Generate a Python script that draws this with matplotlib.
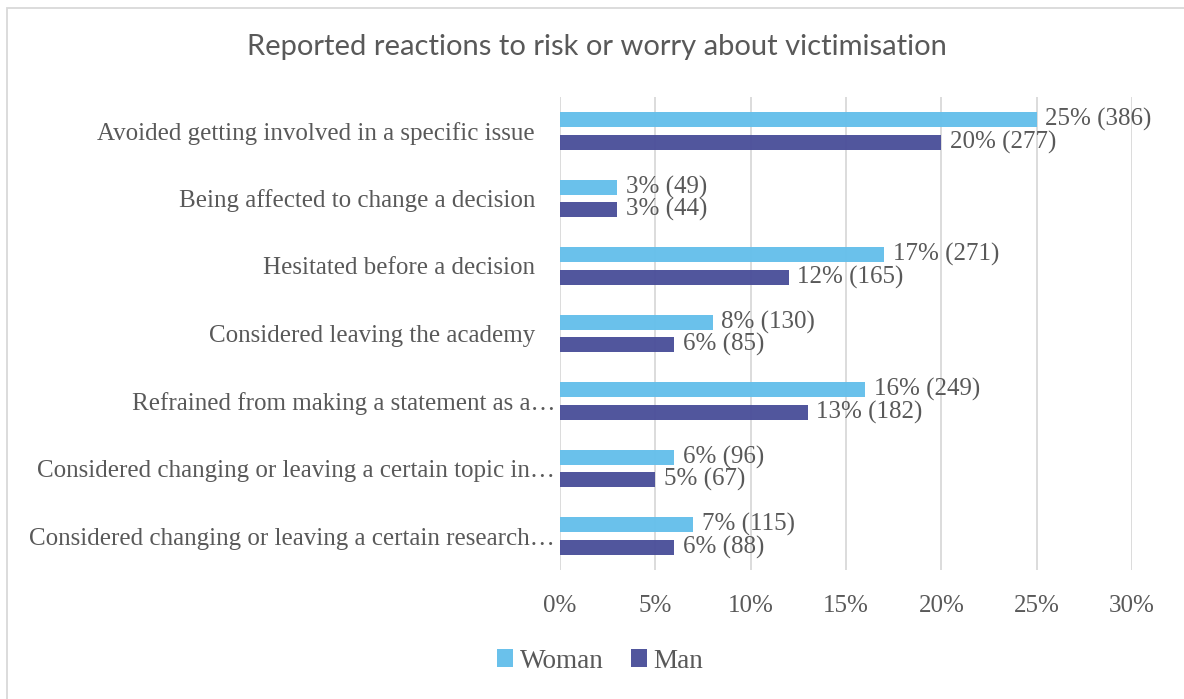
import numpy as np
import matplotlib.pyplot as plt
from matplotlib.patches import Rectangle
from matplotlib.transforms import ScaledTranslation

# data
categories = [
    "Avoided getting involved in a specific issue",
    "Being affected to change a decision",
    "Hesitated before a decision",
    "Considered leaving the academy",
    "Refrained from making a statement as a\u2026",
    "Considered changing or leaving a certain topic in\u2026",
    "Considered changing or leaving a certain research\u2026",
]
woman_pct = [25, 3, 17, 8, 16, 6, 7]
woman_n = [386, 49, 271, 130, 249, 96, 115]
man_pct = [20, 3, 12, 6, 13, 5, 6]
man_n = [277, 44, 165, 85, 182, 67, 88]
xticks = [0, 5, 10, 15, 20, 25, 30]

c_woman = "#65bfeb"
c_man = "#4b509a"
txt = "#595959"
serif = "Liberation Serif"

fig = plt.figure(figsize=(11.84, 6.99), dpi=100)
ax = fig.add_axes([560/1184, 1-570/699, (1132-560)/1184, (570-97)/699])

y = np.arange(len(categories))
h = 0.22
off = 0.167
ax.barh(y - off, woman_pct, height=h, color=c_woman, alpha=0.97, label="Woman", zorder=3)
ax.barh(y + off, man_pct, height=h, color=c_man, alpha=0.97, label="Man", zorder=3)

for i in range(len(categories)):
    ax.text(woman_pct[i] + 0.45, y[i] - off, f"{woman_pct[i]}% ({woman_n[i]})",
            va="center", ha="left", fontsize=18, family=serif, color=txt)
    ax.text(man_pct[i] + 0.45, y[i] + off, f"{man_pct[i]}% ({man_n[i]})",
            va="center", ha="left", fontsize=18, family=serif, color=txt)

ax.set_xlim(0, 30)
ax.set_ylim(len(categories) - 0.5, -0.5)
ax.set_xticks(xticks)
ax.set_xticklabels([f"{v}%" for v in xticks], family=serif, fontsize=18, color=txt)
ax.set_yticks(y)
ax.set_yticklabels(categories, family=serif, fontsize=18, color=txt)
ax.tick_params(axis="x", length=0, pad=18)
ax.tick_params(axis="y", length=0, pad=18)
# truncated labels sit closer to the axis
for lab in ax.get_yticklabels():
    if lab.get_text().endswith("\u2026"):
        lab.set_transform(lab.get_transform() + ScaledTranslation(0.2, 0, fig.dpi_scale_trans))
ax.grid(axis="x", color="#d9d9d9", linewidth=1.3, zorder=0)
for s in ax.spines.values():
    s.set_visible(False)

fig.text(597/1184, 1-47/699, "Reported reactions to risk or worry about victimisation",
         ha="center", va="center", fontsize=21, family="Lato", color=txt)

leg = fig.legend(loc="center", bbox_to_anchor=(600/1184, 1-661/699), ncol=2, frameon=False,
                 prop={"family": serif, "size": 19.5}, handlelength=0.6, handleheight=0.6,
                 handletextpad=0.25, columnspacing=1.0)
for t in leg.get_texts():
    t.set_color(txt)

fig.patches.append(Rectangle((7/1184, -0.05), 1.1, 1.05 - 8/699, transform=fig.transFigure,
                             fill=False, edgecolor="#d9d9d9", linewidth=1.3))

fig.savefig("out.png", dpi=100)
